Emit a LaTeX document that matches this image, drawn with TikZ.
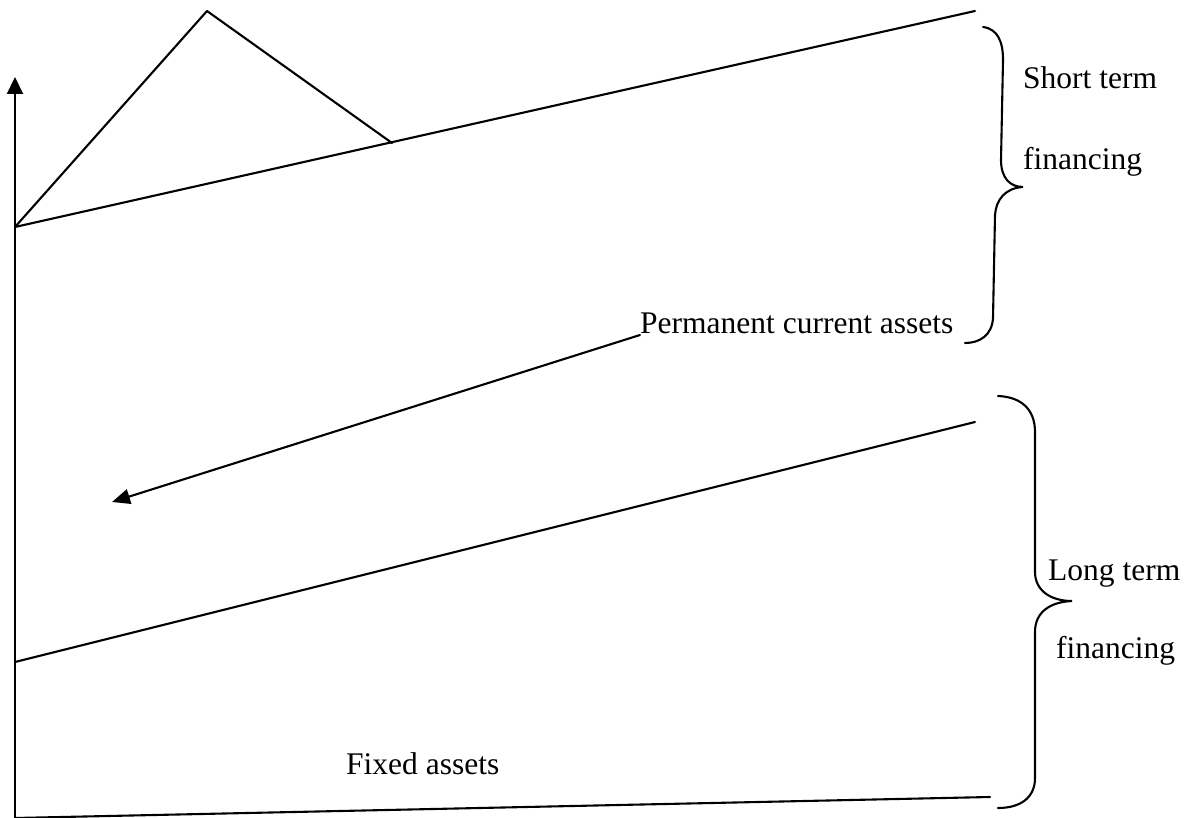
\documentclass[tikz,border=0pt]{standalone}
\usepackage{fontspec}
\setmainfont{Liberation Serif}
\usetikzlibrary{arrows.meta}
\tikzset{
  ln/.style={line width=2.1pt, line cap=round, line join=round},
  lbl/.style={anchor=base west, inner sep=0pt, font=\fontsize{31.5}{36}\selectfont},
  brc/.style={line width=2.1pt, line cap=round}
}
\begin{document}
\begin{tikzpicture}[x=1pt,y=-1pt]
\useasboundingbox (0,0) rectangle (1190,818);
% points
\coordinate (O) at (15,818);
\coordinate (Ytop) at (15,77);
\coordinate (A) at (15,227);
\coordinate (P) at (207,11);
\coordinate (R) at (392,143);
\coordinate (Tend) at (975,11);
\coordinate (M0) at (15,662);
\coordinate (M1) at (975,422);
\coordinate (B1) at (990,797);
\coordinate (ArrS) at (640,335);
\coordinate (ArrE) at (112,502);
% axis
\draw[ln, -{Triangle[length=17pt,width=16pt]}] (O) -- (Ytop);
% lines
\draw[ln] (A) -- (P) -- (R);
\draw[ln] (A) -- (Tend);
\draw[ln] (M0) -- (M1);
\draw[ln] (O) -- (B1);
% arrow
\draw[ln, -{Triangle[length=18pt,width=15pt]}] (ArrS) -- (ArrE);
% texts
\node[lbl] (pca) at (640,333) {Permanent current assets};
\node[lbl] (fa) at (346,774) {Fixed assets};
\node[lbl] (st) at (1023,89) {Short term};
\node[lbl] (sf) at (1023,170) {financing};
\node[lbl] (lt) at (1048,580) {Long term};
\node[lbl] (lf) at (1056,658) {financing};
% upper brace
\draw[brc] (983,27) .. controls (998,29) and (1003,42) .. (1003,60)
  -- (1001,160) .. controls (1001,178) and (1010,187) .. (1023,187)
  .. controls (1005,188) and (996,200) .. (995,215)
  -- (993,318) .. controls (992,335) and (980,343) .. (965,343);
% lower brace
\draw[brc] (998,396) .. controls (1022,397) and (1035,410) .. (1035,432)
  -- (1035,572) .. controls (1035,590) and (1050,601) .. (1072,601)
  .. controls (1050,602) and (1035,612) .. (1035,632)
  -- (1035,778) .. controls (1035,798) and (1020,808) .. (998,808);
\end{tikzpicture}
\end{document}
